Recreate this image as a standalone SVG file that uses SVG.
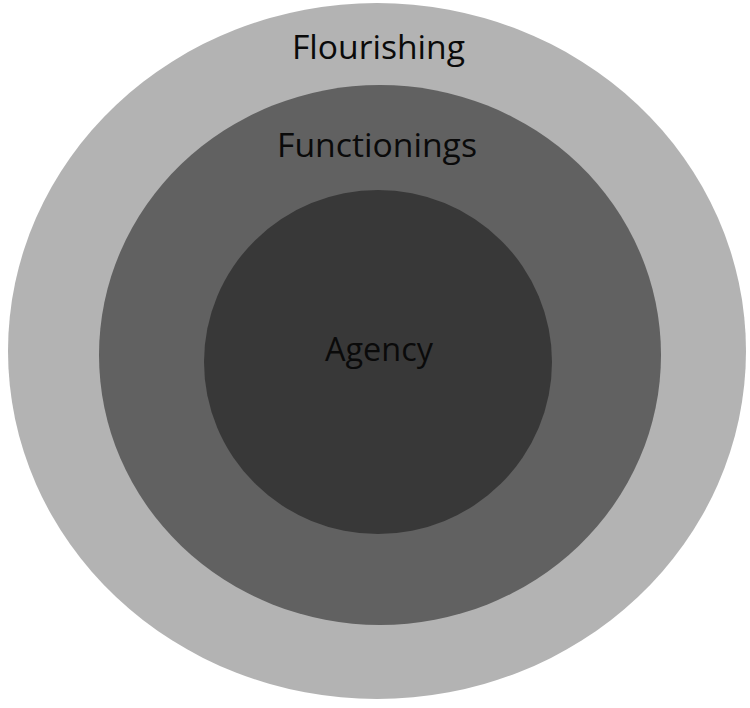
<svg xmlns="http://www.w3.org/2000/svg" width="750" height="708" viewBox="0 0 750 708">
<style>
.lbl{font-family:"Open Sans","Noto Sans","Liberation Sans",sans-serif;font-size:33px;fill:#0a0a0a;text-anchor:middle}
</style>
<rect width="750" height="708" fill="#ffffff"/>
<g id="flourishing">
<ellipse cx="377" cy="351" rx="369" ry="348" fill="#b3b3b3"/>
<text class="lbl" x="378.5" y="59" textLength="173" lengthAdjust="spacingAndGlyphs">Flourishing</text>
</g>
<g id="functionings">
<ellipse cx="380" cy="355" rx="281" ry="270" fill="#616161"/>
<text class="lbl" x="377" y="157" textLength="200" lengthAdjust="spacingAndGlyphs">Functionings</text>
</g>
<g id="agency">
<ellipse cx="378" cy="362" rx="174" ry="172" fill="#383838"/>
<text class="lbl" x="379" y="361" textLength="108" lengthAdjust="spacingAndGlyphs">Agency</text>
</g>
<g id="connectors"/>
</svg>
